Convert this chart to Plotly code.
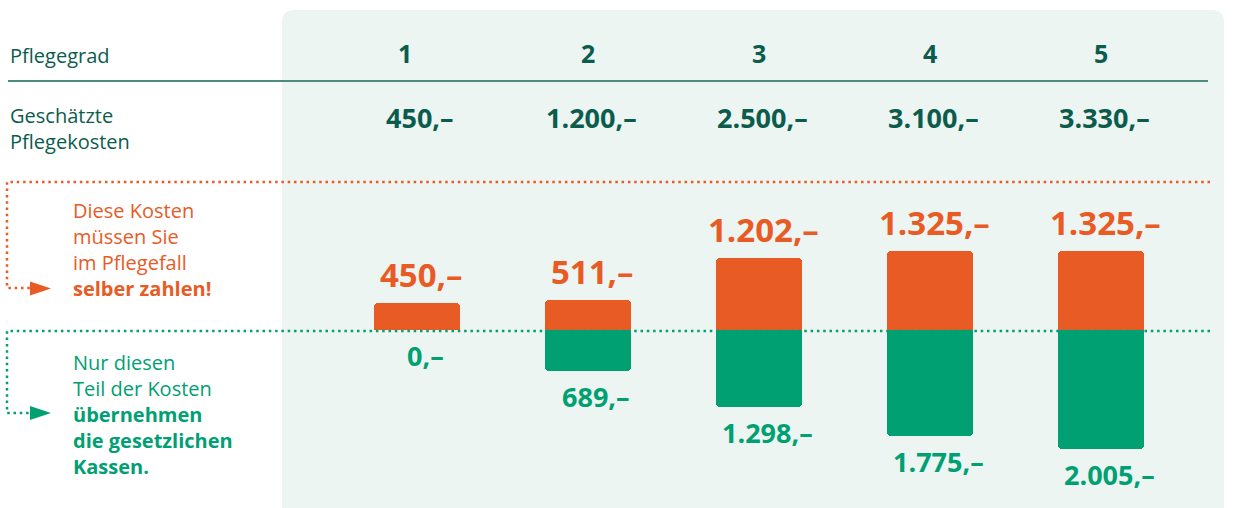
import plotly.graph_objects as go

# ---------------- data ----------------
grades = [1, 2, 3, 4, 5]
grade_labels = ["1", "2", "3", "4", "5"]
estimated_costs = [450, 1200, 2500, 3100, 3330]
own_share = [450, 511, 1202, 1325, 1325]
insurance_share = [0, 689, 1298, 1775, 2005]

# ---------------- style ----------------
W, H = 1233, 508
ORANGE = "#E95B25"
GREEN = "#00A073"
DARK = "#0B5C4D"
PANEL = "#ECF5F1"
RULE = "#4B8B81"
FONT = "Open Sans"


def eur(v):
    return f"{v:,}".replace(",", ".") + ",–"


def px(x):
    return x / W


def py(y):
    return 1 - y / H


fig = go.Figure()

fig.add_trace(go.Bar(
    x=grades, y=own_share, width=0.503,
    marker=dict(color=ORANGE, line=dict(width=0), cornerradius=4),
    hoverinfo="skip", showlegend=False,
))
fig.add_trace(go.Bar(
    x=grades, y=[-v for v in insurance_share], width=0.503,
    marker=dict(color=GREEN, line=dict(width=0), cornerradius=0),
    hoverinfo="skip", showlegend=False,
))

annotations = []

# header row
for g, lab in zip(grades, grade_labels):
    annotations.append(dict(
        x=g, xref="x", y=py(53), yref="paper", text=f"<b>{lab}</b>",
        showarrow=False, xanchor="center", yanchor="middle",
        xshift=-12 if g == 1 else 0,
        font=dict(family=FONT, size=25, color=DARK)))

# estimated costs row
for g, v in zip(grades, estimated_costs):
    annotations.append(dict(
        x=g, xref="x", y=py(117), yref="paper", text=f"<b>{eur(v)}</b>",
        showarrow=False, xanchor="center", yanchor="middle", xshift=3,
        font=dict(family=FONT, size=27, color=DARK)))

# own share labels
for g, v in zip(grades, own_share):
    annotations.append(dict(
        x=g, xref="x", y=v, yref="y", text=f"<b>{eur(v)}</b>",
        showarrow=False, xanchor="center", yanchor="bottom", xshift=4, yshift=4,
        font=dict(family=FONT, size=33, color=ORANGE)))

# insurance share labels
for g, v in zip(grades, insurance_share):
    annotations.append(dict(
        x=g, xref="x", y=-v, yref="y", text=f"<b>{eur(v)}</b>",
        showarrow=False, xanchor="center", yanchor="top", xshift=8, yshift=-5,
        font=dict(family=FONT, size=27, color=GREEN)))

# left column texts
annotations.append(dict(
    x=px(8), y=py(55), xref="paper", yref="paper", text="Pflegegrad",
    showarrow=False, xanchor="left", yanchor="middle",
    font=dict(family=FONT, size=20, color=DARK, weight=500)))
annotations.append(dict(
    x=px(8), y=py(128), xref="paper", yref="paper",
    text="Geschätzte<br>Pflegekosten", align="left",
    showarrow=False, xanchor="left", yanchor="middle",
    font=dict(family=FONT, size=20, color=DARK, weight=500)))
annotations.append(dict(
    x=px(71), y=py(249), xref="paper", yref="paper",
    text="Diese Kosten<br>müssen Sie<br>im Pflegefall<br><b>selber zahlen!</b>",
    align="left", showarrow=False, xanchor="left", yanchor="middle",
    font=dict(family=FONT, size=20, color=ORANGE, weight=500)))
annotations.append(dict(
    x=px(71), y=py(414), xref="paper", yref="paper",
    text="Nur diesen<br>Teil der Kosten<br><b>übernehmen</b><br><b>die gesetzlichen</b><br><b>Kassen.</b>",
    align="left", showarrow=False, xanchor="left", yanchor="middle",
    font=dict(family=FONT, size=20, color=GREEN, weight=500)))


def path(points, close=False):
    s = "M " + " L ".join(f"{px(x):.5f},{py(y):.5f}" for x, y in points)
    return s + (" Z" if close else "")


# rounded panel
r = 12
x0, x1, y0, y1 = 282, 1224, 10, 520
panel_path = (
    f"M {px(x0)},{py(y1)} L {px(x0)},{py(y0 + r)} "
    f"Q {px(x0)},{py(y0)} {px(x0 + r)},{py(y0)} "
    f"L {px(x1 - r)},{py(y0)} Q {px(x1)},{py(y0)} {px(x1)},{py(y0 + r)} "
    f"L {px(x1)},{py(y1)} Z"
)

DOT = "2.5px,3.8px"
shapes = [
    dict(type="path", xref="paper", yref="paper", path=panel_path,
         fillcolor=PANEL, line=dict(width=0), layer="below"),
    dict(type="line", xref="paper", yref="paper", x0=px(8), x1=px(1208),
         y0=py(81), y1=py(81), line=dict(color=RULE, width=2)),
    dict(type="path", xref="paper", yref="paper",
         path=path([(1210, 182), (7, 182), (7, 288), (30, 288)]),
         line=dict(color=ORANGE, width=2.5, dash=DOT)),
    dict(type="path", xref="paper", yref="paper",
         path=path([(30, 281.5), (51, 288.5), (30, 295.5)], close=True),
         fillcolor=ORANGE, line=dict(width=0)),
    dict(type="path", xref="paper", yref="paper",
         path=path([(1210, 331), (7, 331), (7, 413), (30, 413)]),
         line=dict(color=GREEN, width=2.5, dash=DOT)),
    dict(type="path", xref="paper", yref="paper",
         path=path([(30, 406), (51, 413), (30, 420)], close=True),
         fillcolor=GREEN, line=dict(width=0)),
]

fig.update_layout(
    width=W, height=H,
    margin=dict(l=0, r=0, t=0, b=0),
    paper_bgcolor="white", plot_bgcolor="rgba(0,0,0,0)",
    barmode="relative", bargap=0,
    xaxis=dict(range=[-1.4386, 5.7719], visible=False, fixedrange=True),
    yaxis=dict(range=[-2987.6, 5538.8], visible=False, fixedrange=True),
    annotations=annotations, shapes=shapes,
    showlegend=False,
)

fig.write_html(
    "out.html",
    config={"displayModeBar": False},
    post_script="document.body.style.margin='0';document.body.style.overflow='hidden';",
)
